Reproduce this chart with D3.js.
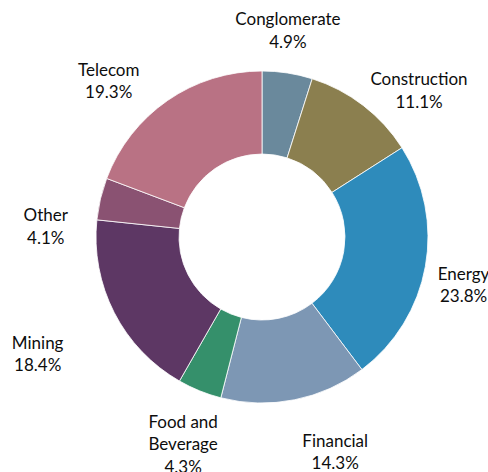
<!DOCTYPE html>
<html><head><meta charset="utf-8">
<script src="https://cdn.jsdelivr.net/npm/d3@7"></script>
<style>html,body{margin:0;padding:0;background:#fff;}</style>
</head><body>
<svg id="c" width="488" height="472"></svg>
<script>
const categories = ["Conglomerate","Construction","Energy","Financial","Food and Beverage","Mining","Other","Telecom"];
const values = [4.9, 11.1, 23.8, 14.3, 4.3, 18.4, 4.1, 19.3];
const labelLines = [["Conglomerate"],["Construction"],["Energy"],["Financial"],["Food and","Beverage"],["Mining"],["Other"],["Telecom"]];
const colors = ["#6a899c","#8b7f4f","#2e8bbb","#7d97b4","#35906b","#5d3764","#8a5272","#b97284"];
// layout nudges for labels (px)
const nudges = [[-7,6],[26,24],[-10,10],[31,4],[2,8],[-33,19],[-7,39],[-31,21]];

const svg = d3.select("#c");
const cx = 262, cy = 237, R = 166, r = 83, LR = 215, lineH = 22.5;
const g = svg.append("g").attr("transform", `translate(${cx},${cy})`);
const data = categories.map((c,i)=>({cat:c, v:values[i], i}));
const pie = d3.pie().value(d=>d.v).sort(null);
const arcs = pie(data);
const arc = d3.arc().innerRadius(r).outerRadius(R);
g.selectAll("path").data(arcs).join("path")
  .attr("d", arc).attr("fill", d=>colors[d.data.i])
  .attr("stroke","#fff").attr("stroke-width",0.8);

const fmt = v => v.toFixed(1) + "%";
arcs.forEach(a=>{
  const i = a.data.i;
  const mid = (a.startAngle + a.endAngle)/2;
  const x = LR*Math.sin(mid) + nudges[i][0];
  const y = -LR*Math.cos(mid) + nudges[i][1];
  const lines = labelLines[i].concat([fmt(a.data.v)]);
  const t = g.append("text").attr("text-anchor","middle")
    .attr("font-family","Lato, 'Open Sans', sans-serif").attr("font-size",17).attr("fill","#0d0d0d");
  const y0 = y - (lines.length-1)*lineH/2;
  lines.forEach((s,k)=>{
    t.append("tspan").attr("x",x).attr("y",y0+k*lineH).attr("dy","0.35em").text(s);
  });
});
</script>
</body></html>
